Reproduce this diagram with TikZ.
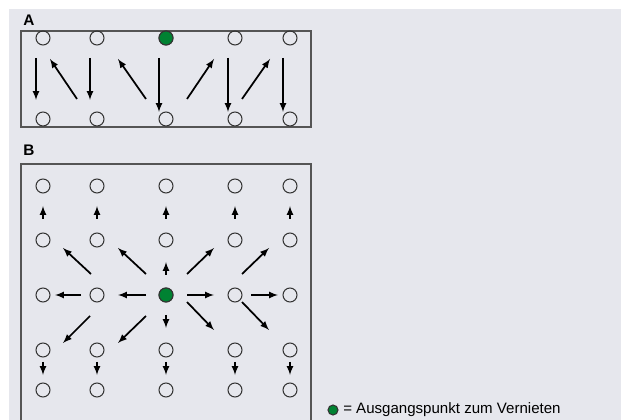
\documentclass[tikz,border=0pt]{standalone}
\usepackage{fontspec}
\setmainfont{Liberation Sans}
\usetikzlibrary{arrows}

\definecolor{bggrey}{RGB}{230,231,237}
\definecolor{rivetgreen}{RGB}{0,130,50}
\definecolor{framegrey}{RGB}{85,85,85}

\begin{document}
\begin{tikzpicture}[x=0.75pt, y=-0.75pt,
  hole/.style={draw=black!80, circle, inner sep=0pt, minimum size=14*0.75pt, line width=0.8pt},
  start/.style={hole, fill=rivetgreen},
  arr/.style={arrows={-latex}, line width=1.3pt},
  frame/.style={draw=framegrey, line width=1.1pt}]
\useasboundingbox (0,0) rectangle (632,420);
\fill[bggrey] (9,9) rectangle (621,420);

%panel A
\node[anchor=west, inner sep=0pt, font=\bfseries\fontsize{11.5}{13}\selectfont] at (23,20) (labA) {A};
\draw[frame] (21,31) rectangle (311,127);
\foreach \x [count=\i] in {43,97,166,235,290} {
  \node[hole] at (\x,38) (at\i) {};
  \node[hole] at (\x,119) (ab\i) {};
}
\node[start] at (at3) (startA) {};

%straight down
\foreach \x/\y in {36/100, 90/100, 159/112, 228/112, 283/112}
  \draw[arr] (\x,58) -- (\x,\y);
%diagonals back up
\foreach \xa/\xb in {77/50, 146/118, 187/214, 242/270}
  \draw[arr] (\xa,99) -- (\xb,59);

%panel B
\node[anchor=west, inner sep=0pt, font=\bfseries\fontsize{11.5}{13}\selectfont] at (23,150) (labB) {B};
\draw[frame] (311,425) -- (311,164) -- (21,164) -- (21,425);
\foreach \x [count=\i] in {43,97,166,235,290} {
  \node[hole] at (\x,186) (b1\i) {};
  \node[hole] at (\x,240) (b2\i) {};
  \node[hole] at (\x,295) (b3\i) {};
  \node[hole] at (\x,350) (b4\i) {};
  \node[hole] at (\x,390) (b5\i) {};
}
\node[start] at (b33) (startB) {};

%short steps up and down at the edges
\foreach \x in {43,97,166,235,290} {
  \draw[arr] (\x,219) -- (\x,206);
  \draw[arr] (\x,362) -- (\x,375);
}
\draw[arr] (166,275) -- (166,262);
\draw[arr] (166,315) -- (166,328);

%diagonals from the centre
\foreach \xa/\xb in {91/63, 146/118, 187/214, 242/269}
  \draw[arr] (\xa,274) -- (\xb,248);
\foreach \xa/\xb in {90/63, 146/118}
  \draw[arr] (\xa,316) -- (\xb,343);
\foreach \xa/\xb in {187/214, 242/269}
  \draw[arr] (\xa,302) -- (\xb,330);

%sideways along the middle row
\foreach \xa/\xb in {81/55, 146/118, 187/214, 251/278}
  \draw[arr] (\xa,295) -- (\xb,295);

%legend
\node[start, minimum size=10*0.75pt] at (333,410) (keydot) {};
\node[anchor=west, inner sep=0pt, font=\fontsize{11.3}{13}\selectfont] at (343,410) (keytext) {= Ausgangspunkt zum Vernieten};

\end{tikzpicture}
\end{document}
